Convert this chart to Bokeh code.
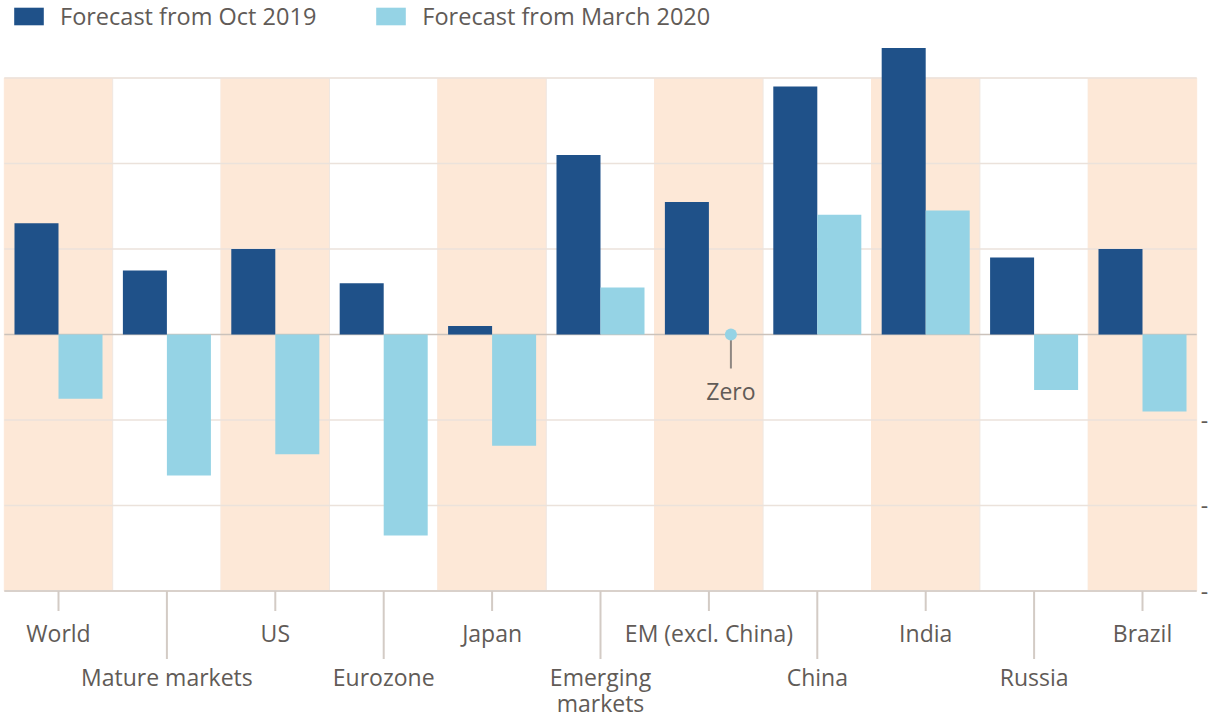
import math
from bokeh.plotting import figure
from bokeh.models import ColumnDataSource, Range1d, Legend, LegendItem
from bokeh.core.properties import value
from bokeh.embed import file_html
from bokeh.resources import INLINE

# ---------------- data ----------------
categories = ["World", "Mature markets", "US", "Eurozone", "Japan",
              "Emerging\nmarkets", "EM (excl. China)", "China", "India",
              "Russia", "Brazil"]
forecast_oct_2019 = [2.6, 1.5, 2.0, 1.2, 0.2, 4.2, 3.1, 5.8, 6.7, 1.8, 2.0]
forecast_mar_2020 = [-1.5, -3.3, -2.8, -4.7, -2.6, 1.1, 0.0, 2.8, 2.9, -1.3, -1.8]
grid_values = [-6, -4, -2, 0, 2, 4, 6]
right_tick_values = [-2, -4, -6]
right_tick_labels = ["-", "-", "-"]
series_names = ["Forecast from Oct 2019", "Forecast from March 2020"]
zero_note = "Zero"

# ---------------- style ----------------
W, H = 1209, 719
DARK = "#1f5189"
LIGHT = "#95d3e5"
PEACH = "#fde8d7"
TXT = "#615b57"
FONT = "Open Sans"
FS = "23px"

n = len(categories)
idx = list(range(n))
# pixel geometry used to define the scales
cat_px = 108.4
first_center_px = 58.0
unit_px = 42.75
zero_px = 334.0

x_start = -first_center_px / cat_px
x_end = (W - first_center_px) / cat_px
y_end = zero_px / unit_px
y_start = -(H - zero_px) / unit_px

p = figure(width=W, height=H, output_backend="svg", toolbar_location=None,
           x_range=Range1d(x_start, x_end), y_range=Range1d(y_start, y_end),
           min_border=0, outline_line_color=None, background_fill_color="white",
           border_fill_color="white")
p.xaxis.visible = False
p.yaxis.visible = False
p.xgrid.visible = False
p.ygrid.visible = False

gmin, gmax = min(grid_values), max(grid_values)

# background bands
band_src = ColumnDataSource(dict(
    left=[i - 0.5 for i in idx], right=[i + 0.5 for i in idx],
    color=[PEACH if i % 2 == 0 else "white" for i in idx],
    line=[PEACH if i % 2 == 0 else "#efe7e1" for i in idx]))
p.quad(left="left", right="right", bottom=gmin, top=gmax, source=band_src,
       fill_color="color", line_color="line", line_width=1)

# horizontal grid lines
for g in grid_values:
    if g == 0:
        col, lw = "#cbc2bb", 1.5
    elif g == gmin:
        col, lw = "#d9d1cb", 2
    else:
        col, lw = "#ebe2db", 1.5
    p.segment(x0=[-0.5], x1=[n - 0.5], y0=[g], y1=[g], line_color=col, line_width=lw)

# bars
bw = 0.406
src = ColumnDataSource(dict(
    x_oct=[i - bw / 2 for i in idx], x_mar=[i + bw / 2 for i in idx],
    oct=forecast_oct_2019, mar=forecast_mar_2020))
r1 = p.vbar(x="x_oct", width=bw, top="oct", bottom=0, source=src,
            fill_color=DARK, line_color=None)
r2 = p.vbar(x="x_mar", width=bw, top="mar", bottom=0, source=src,
            fill_color=LIGHT, line_color=None)

# x-axis ticks (alternating short / long)
tick_len = [20 if i % 2 == 0 else 68 for i in idx]
p.ray(x=idx, y=[gmin] * n, length=tick_len, length_units="screen",
      angle=-math.pi / 2, line_color="#d3cbc5", line_width=2)

# category labels (staggered, each line placed separately)
lab_x, lab_txt, lab_off = [], [], []
for i, c in enumerate(categories):
    base = 42 if i % 2 == 0 else 86
    for k, line in enumerate(c.split("\n")):
        lab_x.append(i)
        lab_txt.append(line)
        lab_off.append(base + 26 * k)
lab_src = ColumnDataSource(dict(x=lab_x, y=[gmin] * len(lab_x), text=lab_txt, off=lab_off))
p.text(x="x", y="y", text="text", y_offset="off", source=lab_src,
       text_align="center", text_baseline="middle",
       text_font=value(FONT), text_font_size=FS, text_color=TXT)

# right-hand tick labels (clipped minus signs)
p.text(x=[n - 0.5] * len(right_tick_values), y=right_tick_values, text=right_tick_labels,
       text_align="left", text_baseline="middle", x_offset=4,
       text_font=value(FONT), text_font_size=FS, text_color=TXT)

# "Zero" annotation on EM (excl. China)
zi = categories.index("EM (excl. China)")
p.ray(x=[zi + bw / 2], y=[forecast_mar_2020[zi]], length=[34], length_units="screen",
      angle=-math.pi / 2, line_color="#8f8782", line_width=2)
p.scatter(x=[zi + bw / 2], y=[forecast_mar_2020[zi]], size=12, fill_color=LIGHT,
          line_color=None)
p.text(x=[zi + bw / 2], y=[forecast_mar_2020[zi]], text=[zero_note],
       text_align="center", text_baseline="middle", y_offset=56,
       text_font=value(FONT), text_font_size=FS, text_color=TXT)

# legend
legend = Legend(items=[LegendItem(label=series_names[0], renderers=[r1]),
                       LegendItem(label=series_names[1], renderers=[r2])],
                orientation="horizontal", location=(10, H - 8 - 24),
                glyph_width=37, glyph_height=22, label_standoff=13, spacing=56,
                padding=0, margin=0, border_line_color=None,
                background_fill_alpha=0,
                label_text_font=FONT, label_text_font_size="23.5px",
                label_text_color=TXT, label_height=22)
p.add_layout(legend, "center")

open("out.html", "w").write(file_html(p, INLINE))
